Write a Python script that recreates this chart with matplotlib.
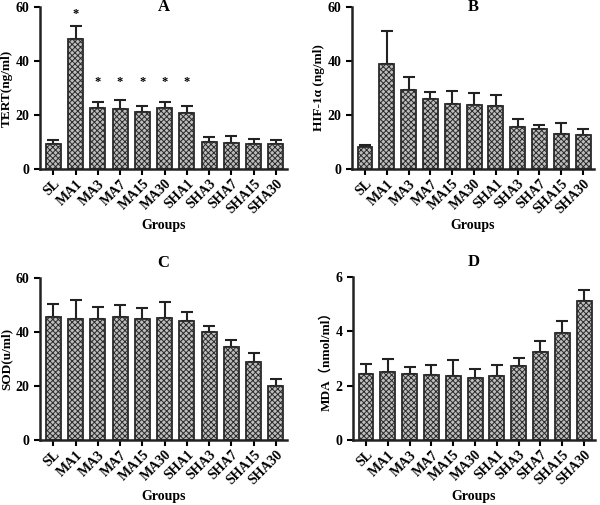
import numpy as np
import matplotlib
matplotlib.use("Agg")
import matplotlib.pyplot as plt

plt.rcParams['font.family'] = ['Liberation Serif', 'Noto Sans CJK SC', 'DejaVu Sans']
plt.rcParams['font.weight'] = 'bold'
plt.rcParams['hatch.linewidth'] = 0.7

groups = ["SL", "MA1", "MA3", "MA7", "MA15", "MA30", "SHA1", "SHA3", "SHA7", "SHA15", "SHA30"]

tert_mean = [9.1, 48.0, 22.6, 22.3, 21.0, 22.6, 20.9, 9.9, 9.5, 9.3, 9.1]
tert_top = [10.6, 53.0, 24.8, 25.4, 23.5, 24.8, 23.5, 12.0, 12.1, 11.0, 10.6]
tert_star = [None, 57.5, 32.2, 32.2, 32.2, 32.2, 32.2, None, None, None, None]

hif_mean = [8.1, 38.8, 29.1, 25.8, 24.2, 23.7, 23.5, 15.4, 14.8, 13.0, 12.5]
hif_top = [8.9, 51.2, 34.2, 28.4, 28.9, 28.1, 27.5, 18.6, 16.3, 17.0, 14.8]

sod_mean = [45.7, 44.8, 44.7, 45.7, 44.8, 45.2, 44.2, 40.1, 34.6, 28.9, 19.9]
sod_top = [50.5, 51.7, 49.3, 50.1, 48.9, 51.0, 47.5, 42.3, 37.2, 32.3, 22.7]

mda_mean = [2.42, 2.50, 2.42, 2.39, 2.34, 2.28, 2.37, 2.71, 3.23, 3.93, 5.13]
mda_top = [2.80, 2.98, 2.69, 2.76, 2.93, 2.63, 2.75, 3.03, 3.63, 4.37, 5.53]

W, H = 600, 505
fig = plt.figure(figsize=(6.0, 5.05), dpi=100)


def px_axes(left, right, top, bottom):
    return fig.add_axes([left / W, 1 - bottom / H, (right - left) / W, (bottom - top) / H])


def panel(ax, mean, top, ymax, yticks, ylabel, title, title_y, stars=None):
    x = np.arange(len(groups))
    mean = np.array(mean)
    top = np.array(top)
    ax.bar(x, mean, width=0.68, color='#bdbdbd', edgecolor='#2a2a2a',
           hatch='xxxxxx', linewidth=1.3, zorder=2)
    ax.errorbar(x, mean, yerr=[np.zeros_like(mean), top - mean], fmt='none',
                ecolor='#222222', elinewidth=1.5, capsize=4.5, capthick=1.5, zorder=1)
    if stars is not None:
        for xi, s in zip(x, stars):
            if s is not None:
                ax.text(xi, s, '*', ha='center', va='center', fontsize=9)
    ax.set_xlim(-0.6, 10.5)
    ax.set_ylim(0, ymax)
    ax.set_yticks(yticks)
    ax.set_xticks(x)
    ax.set_xticklabels(groups, rotation=45, ha='right', rotation_mode='anchor',
                       fontsize=9, fontweight='bold')
    ax.tick_params(axis='both', direction='out', width=1.5, length=4, labelsize=10)
    ax.tick_params(axis='x', pad=2)
    for lab in ax.get_yticklabels():
        lab.set_fontweight('bold')
    for s in ['top', 'right']:
        ax.spines[s].set_visible(False)
    for s in ['left', 'bottom']:
        ax.spines[s].set_linewidth(1.8)
        ax.spines[s].set_color('#222222')
    ax.spines['left'].set_bounds(0, ymax)
    ax.set_ylabel(ylabel, fontsize=9.5, fontweight='bold', labelpad=2)
    ax.set_xlabel('Groups', fontsize=10, fontweight='bold', labelpad=2)
    ax.text(0.5, title_y, title, transform=ax.transAxes, ha='center', va='center',
            fontsize=12, fontweight='bold')


axA = px_axes(40, 287, 7, 169)
panel(axA, tert_mean, tert_top, 60, [0, 20, 40, 60], 'TERT(ng/ml)', 'A', 1.0, tert_star)

axB = px_axes(352, 594, 7, 169)
panel(axB, hif_mean, hif_top, 60, [0, 20, 40, 60], 'HIF-1α (ng/ml)', 'B', 1.0)

axC = px_axes(40, 287, 278, 440)
panel(axC, sod_mean, sod_top, 60, [0, 20, 40, 60], 'SOD(u/ml)', 'C', 1.09)

axD = px_axes(353, 595, 277, 440)
panel(axD, mda_mean, mda_top, 6, [0, 2, 4, 6], 'MDA（nmol/ml）', 'D', 1.09)

fig.savefig('out.png', dpi=100)
